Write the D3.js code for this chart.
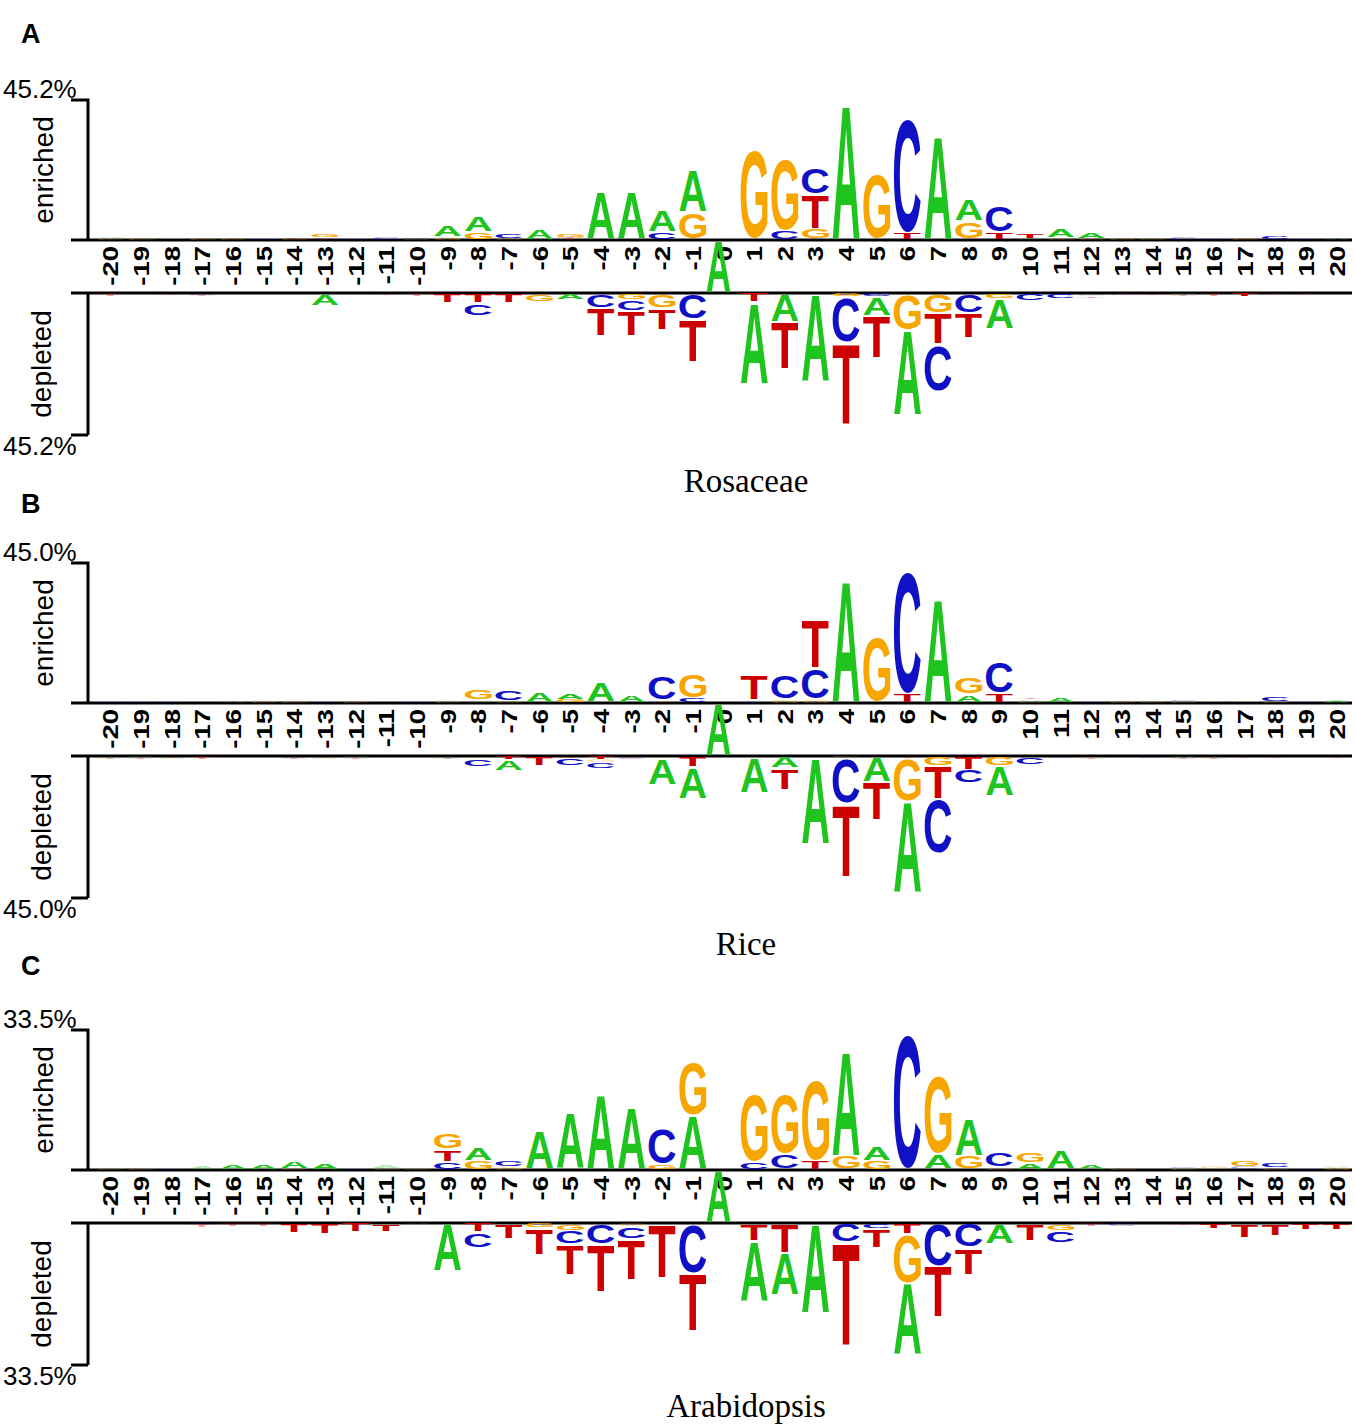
<!doctype html>
<html>
<head>
<meta charset="utf-8">
<title>Two-sample logos</title>
<style>
  body { margin: 0; background: #fff; }
  svg { display: block; }
</style>
</head>
<body>
<svg width="1355" height="1428"></svg>
<script src="https://d3js.org/d3.v7.min.js"></script>
<script>
// sequence positions around the modified A (position 0)
var positions = [-20, -19, -18, -17, -16, -15, -14, -13, -12, -11, -10, -9, -8, -7, -6, -5, -4, -3, -2, -1,
                 0, 1, 2, 3, 4, 5, 6, 7, 8, 9, 10, 11, 12, 13, 14, 15, 16, 17, 18, 19, 20];

// each entry: letters stacked from the baseline outwards, "letter + percent"
var rosEnr = ["G0.5 A0.6", "G0.5", "", "G0.5", "G0.3", "C0.6", "G0.3 T0.6", "T0.4 C0.5 G1", "C0.5", "C0.7",
              "G0.3 C0.6", "G0.8 A3.8", "G2.3 A5.3", "G0.5 C1.4", "A3.2", "T0.8 G1", "A15.5", "A15.3", "C2.3 A7.5", "G8.6 A13.5",
              "", "G28.5", "C2.7 G23", "G3.2 T11.3 C8.6", "A43.5", "G21", "T2.2 C37", "A33.3", "G5.9 A7.5", "T2.2 C8.6",
              "A0.6 T1.2", "G0.4 A2.8", "G0.3 A2", "G0.4", "G0.4", "C0.7", "C0.5", "G0.6", "C1", "C0.4", "A0.5"];
var rosDep = ["T0.8", "", "T0.6", "C0.5 T0.6", "", "", "", "A3.8", "", "T0.6",
              "T0.8", "T3", "T3 C4", "T3", "G2.5", "A2", "C4.5 T9", "G2 C3.5 T8", "G4.5 T7", "C8 T13.5",
              "", "T2.7 A25.8", "A9 T15", "A28", "G1 C14.5 T26", "C1 A6 T13.5", "G11.5 A27", "G6 T10 C15", "C6 T8", "G1.5 A9.7",
              "C2.2", "C1.5", "C0.6 G0.5 T0.5", "T0.3 C0.4", "T0.5", "A0.4 T0.4", "T0.8", "T1", "T0.4", "T0.3", ""];

var riceEnr = ["C0.3", "C0.4", "C0.2", "", "A0.6", "G0.5", "G0.3", "C0.4", "G0.3", "",
               "C0.4", "G0.3", "A0.6 G3.5", "G0.5 C3.5", "A3.2", "G1 A2", "A6.5", "A2.2", "T0.4 C8", "C1.2 G8",
               "", "C0.6 T8", "G0.8 C7.8", "G0.8 C10 T15.5", "A39", "G21", "T2.8 C39", "A33", "A2.4 G5.8", "T2.8 C10.5",
               "G0.5 A0.6 T0.6", "A1.5", "C0.3", "G0.4", "G0.6", "G0.5 C0.6", "C0.4 G0.5", "C0.4 G0.5", "G0.5 C1.2", "C0.6", "A0.8"];
var riceDep = ["A0.5 T0.5", "A0.4 T0.5", "T0.5 A0.5", "T0.8", "", "", "C0.5 T0.5", "T0.5 A0.5", "A0.4 T0.4", "A0.5",
               "A0.6", "A0.5 T0.4", "G0.6 C2.6", "T1 A3.5", "T3", "T0.6 C2.3", "T1 G0.8 C2", "T0.5 C0.6", "G0.5 A8.5", "T3.2 A10",
               "", "A11.5", "A3.6 T6.8", "A27.5", "G0.4 C14.5 T23", "A8 T12", "T0.5 G13.5 A29", "G2.8 T10.5 C17.5", "T4.2 C4.2", "G3 A9.5",
               "C2.6", "C0.6", "G0.5 T0.5", "", "C0.6", "A0.4 T0.4", "A0.5 T0.6", "T0.5", "T0.6", "A0.6", "T0.5"];

var araEnr = ["G0.3", "G0.3", "C0.3", "A0.8", "A1.2", "A1", "G0.3 A1.8", "A1.6", "C0.4", "G0.4 A0.8",
              "G0.5", "C1.8 T3 G4", "G2 A3.2", "G0.6 C1.6", "A9.2", "A13.5", "A18", "A14.7", "G1 C8.8", "A12.8 G12.8",
              "", "C1.8 G16.3", "C3.6 G14.4", "T2 G19.5", "G3.2 A25", "G2 A3.6", "C32", "A3.6 G18.7", "G3.2 A8.8", "G0.4 C3.6",
              "A1.6 G2.4", "A4.4", "A1.2", "G0.4", "", "G0.3 C0.5", "G0.8", "C0.8 G1.6", "G0.5 C1.2", "C0.5", "G0.6 A0.5"];
var araDep = ["", "A0.4", "", "C0.3 T0.6", "T0.8", "T0.8", "T2.2", "T2.4", "T2", "T1.8",
              "A0.3", "A11.2", "T2 C3.6", "T3.6", "G1 T6.4", "G1.6 C3.2 T7.2", "C4.8 T11.2", "G0.8 C2.8 T9.6", "T12.8", "C11.6 T13.6",
              "", "T4 A14.4", "T6.8 A10", "A21", "C4.4 T24.3", "C1.2 T4.4", "T2.4 G11.6 A17", "C10 T12", "C5.6 T6.4", "A4.8",
              "T4", "G1.6 C2.8", "T0.6", "C0.6", "", "T0.4", "T1.2", "T3.2", "T2.8", "T1.5", "T1.5"];

var maxValues = [45.2, 45.0, 33.5];
var maxLabels = ["45.2%", "45.0%", "33.5%"];
var panelTags = ["A", "B", "C"];
var panelNames = ["Rosaceae", "Rice", "Arabidopsis"];
var fixedLetter = "A";

var colors = { A: "#1fc41f", C: "#1010c4", G: "#f7a600", T: "#cc0000" };

var svg = d3.select("svg");
var letterFont = "'Liberation Sans', Arial, Helvetica, sans-serif";

// tight ink bounds of each glyph, so a letter can be stretched to fill its box
var ctx = document.createElement("canvas").getContext("2d");
ctx.font = "bold 100px " + letterFont;
var glyph = {};
["A", "C", "G", "T"].forEach(function(c) {
    var m = ctx.measureText(c);
    var l = m.actualBoundingBoxLeft, r = m.actualBoundingBoxRight;
    var a = m.actualBoundingBoxAscent, d = m.actualBoundingBoxDescent;
    if (!isFinite(l) || !isFinite(a)) { l = -2; r = 70; a = 72; d = 1; }
    glyph[c] = { l: l, w: l + r, a: a, h: a + d };
});

function drawLetter(g, c, x0, y0, w, h, opacity) {
    if (h < 0.4) return;
    var m = glyph[c];
    g.append("text")
        .text(c)
        .attr("font-family", letterFont)
        .attr("font-weight", "bold")
        .attr("font-size", 100)
        .attr("fill", colors[c])
        .attr("opacity", opacity)
        .attr("transform", "translate(" + x0 + "," + y0 + ") scale(" + (w / m.w) + "," + (h / m.h) + ") translate(" + m.l + "," + m.a + ")");
}

function parse(spec) {
    return spec.split(" ").filter(function(s) { return s.length; }).map(function(s) {
        return { c: s[0], v: +s.slice(1) };
    });
}

var x = d3.scaleBand().domain(positions).range([95, 1352]);
var letterW = x.bandwidth() * 0.88;

var layout = [
    { top: 100, tagY: 43, titleY: 492 },
    { top: 563, tagY: 513, titleY: 955 },
    { top: 1030, tagY: 975, titleY: 1417 }
];

var series = [[rosEnr, rosDep], [riceEnr, riceDep], [araEnr, araDep]];

layout.forEach(function(L, i) {
    var enrBase = L.top + 140, depBase = L.top + 193, bot = L.top + 335;
    var yUp = d3.scaleLinear().domain([0, maxValues[i]]).range([enrBase, L.top]);
    var yDown = d3.scaleLinear().domain([0, maxValues[i]]).range([depBase, bot]);
    var g = svg.append("g");

    // panel tag and title
    g.append("text").attr("x", 21).attr("y", L.tagY).text(panelTags[i])
        .attr("font-family", letterFont).attr("font-weight", "bold").attr("font-size", 27);
    g.append("text").attr("x", 746).attr("y", L.titleY).attr("text-anchor", "middle").text(panelNames[i])
        .attr("font-family", "'Liberation Serif', 'Times New Roman', serif").attr("font-size", 33);

    // bracket axes
    var axis = g.append("g").attr("stroke", "#000").attr("stroke-width", 3).attr("fill", "none");
    axis.append("path").attr("d", "M71," + L.top + "H88V" + enrBase);
    axis.append("path").attr("d", "M88," + bot + "H71");
    axis.append("path").attr("d", "M88," + depBase + "V" + bot);
    axis.append("line").attr("x1", 71).attr("x2", 1352).attr("y1", enrBase).attr("y2", enrBase);
    axis.append("line").attr("x1", 71).attr("x2", 1352).attr("y1", depBase).attr("y2", depBase);

    g.append("text").attr("x", 3).attr("y", L.top - 2).text(maxLabels[i])
        .attr("font-family", letterFont).attr("font-size", 26);
    g.append("text").attr("x", 3).attr("y", bot + 20).text(maxLabels[i])
        .attr("font-family", letterFont).attr("font-size", 26);

    g.append("text").text("enriched").attr("text-anchor", "middle")
        .attr("font-family", letterFont).attr("font-size", 28)
        .attr("transform", "translate(53," + ((L.top + enrBase) / 2) + ") rotate(-90)");
    g.append("text").text("depleted").attr("text-anchor", "middle")
        .attr("font-family", letterFont).attr("font-size", 28)
        .attr("transform", "translate(51," + ((depBase + bot) / 2) + ") rotate(-90)");

    // position labels, rotated and slightly stretched along the text
    g.selectAll(".pos").data(positions).enter().append("text")
        .attr("class", "pos")
        .attr("text-anchor", "end")
        .attr("font-family", letterFont).attr("font-weight", "bold").attr("font-size", 22)
        .attr("transform", function(p) {
            return "translate(" + (x(p) + x.bandwidth() / 2 + 8) + "," + (enrBase + 6) + ") rotate(-90) scale(1.25,1)";
        })
        .text(function(p) { return p; });

    // stacked letters
    positions.forEach(function(p, k) {
        var x0 = x(p) + (x.bandwidth() - letterW) / 2;
        var cum = 0;
        parse(series[i][0][k]).forEach(function(d) {
            var y1 = yUp(cum + d.v), y0 = yUp(cum);
            var pad = Math.min(2, (y0 - y1) * 0.15);
            drawLetter(g, d.c, x0, y1, letterW, y0 - y1 - pad, d.v < 1.0 ? 0.35 : 1);
            cum += d.v;
        });
        cum = 0;
        parse(series[i][1][k]).forEach(function(d) {
            var y0 = yDown(cum), y1 = yDown(cum + d.v);
            var pad = Math.min(2, (y1 - y0) * 0.15);
            drawLetter(g, d.c, x0, y0 + pad, letterW, y1 - y0 - pad, d.v < 1.0 ? 0.35 : 1);
            cum += d.v;
        });
    });

    // the fixed centre residue spans the label band
    var xc = x(0) + x.bandwidth() / 2 - 5;
    drawLetter(g, fixedLetter, xc - 12, enrBase + 1.5, 24, depBase - enrBase - 3, 1);
});
</script>
</body>
</html>
